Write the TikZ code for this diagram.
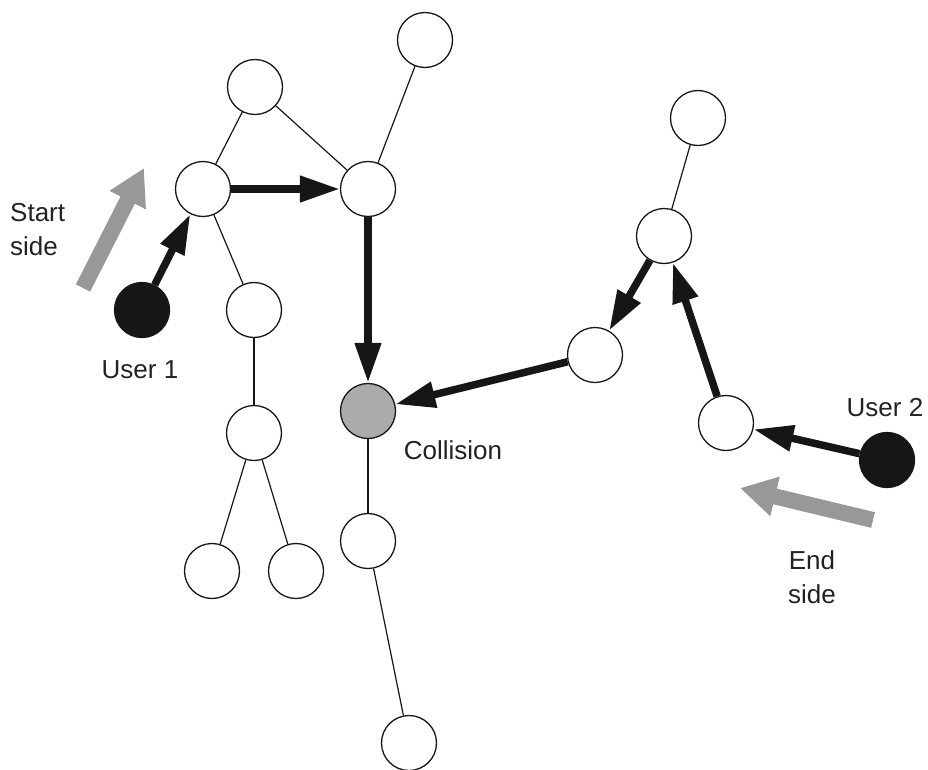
\documentclass[tikz,border=0pt]{standalone}
\usepackage{fontspec}
\setmainfont{Liberation Sans}
\usetikzlibrary{arrows.meta}
\definecolor{inkc}{HTML}{161616}
\definecolor{arrowgray}{HTML}{989898}
\definecolor{hitgray}{HTML}{ABABAB}
\definecolor{txt}{HTML}{222222}
\begin{document}
\begin{tikzpicture}[x=1pt,y=-1pt,
  vtx/.style={circle,draw=inkc,line width=1.3pt,fill=white,minimum size=55pt,inner sep=0pt},
  uservtx/.style={vtx,fill=inkc},
  hitvtx/.style={vtx,fill=hitgray},
  edge/.style={draw=inkc,line width=1.2pt},
  walk/.style={draw=inkc,line width=7.5pt,-{Triangle[length=40pt,width=25pt]}},
  sidearrow/.style={draw=arrowgray,line width=16pt,-{Triangle[length=36pt,width=38pt]}},
  lbl/.style={text=txt,font=\fontsize{26}{34}\selectfont,inner sep=0pt}
]
\useasboundingbox (0,0) rectangle (928,769);
\clip (0,0) rectangle (928,769);
% nodes
\node[vtx] (A) at (255,87) {};
\node[vtx] (B) at (425,40) {};
\node[vtx] (C) at (203,189) {};
\node[vtx] (D) at (368,189) {};
\node[vtx] (E) at (254,310) {};
\node[vtx] (F) at (254,433) {};
\node[vtx] (G) at (212,571) {};
\node[vtx] (H) at (296,571) {};
\node[hitvtx] (X) at (368,411) {};
\node[vtx] (I) at (368,541) {};
\node[vtx] (J) at (409,743) {};
\node[uservtx] (U1) at (142,310) {};
\node[vtx] (K) at (698,118) {};
\node[vtx] (L) at (664,236) {};
\node[vtx] (M) at (595,355) {};
\node[vtx] (N) at (726,423) {};
\node[uservtx] (U2) at (887,460) {};
% thin edges
\draw[edge] (A) -- (C);
\draw[edge] (A) -- (D);
\draw[edge] (B) -- (D);
\draw[edge] (C) -- (E);
\draw[edge] (E) -- (F);
\draw[edge] (F) -- (G);
\draw[edge] (F) -- (H);
\draw[edge] (X) -- (I);
\draw[edge] (I) -- (J);
\draw[edge] (K) -- (L);
% thick walks
\draw[walk] (U1) -- (C);
\draw[walk] (C) -- (D);
\draw[walk] (D) -- (X);
\draw[walk] (M) -- (X);
\draw[walk] (L) -- (M);
\draw[walk] (N) -- (L);
\draw[walk] (U2) -- (N);
% side arrows
\coordinate (s1) at (83,288);
\coordinate (s2) at (144,168);
\draw[sidearrow] (s1) -- (s2);
\coordinate (e1) at (873,520);
\coordinate (e2) at (740,488);
\draw[sidearrow] (e1) -- (e2);
% labels
\node[lbl,anchor=west,align=left] (startlbl) at (10,230) {Start\\side};
\node[lbl,align=center] (endlbl) at (812,577) {End\\side};
\node[lbl,anchor=base] (u1lbl) at (140,378) {User 1};
\node[lbl,anchor=base] (u2lbl) at (885,416) {User 2};
\node[lbl,anchor=base] (hitlbl) at (453,459) {Collision};
\end{tikzpicture}
\end{document}
